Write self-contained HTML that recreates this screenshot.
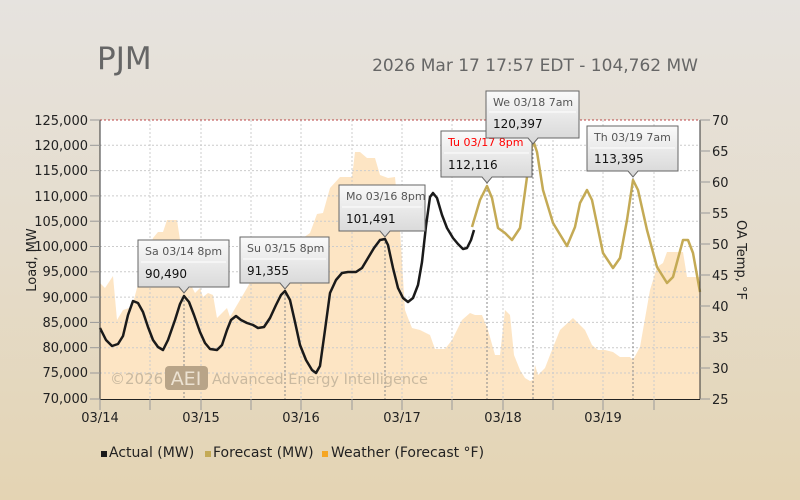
<!DOCTYPE html>
<html><head><meta charset="utf-8"><style>
html,body{margin:0;padding:0;width:800px;height:500px;overflow:hidden;background:#e5dccb}
</style></head><body>
<svg width="800" height="500" viewBox="0 0 800 500" xmlns="http://www.w3.org/2000/svg" font-family="DejaVu Sans, Liberation Sans, sans-serif">
<defs>
<linearGradient id="bg" x1="0" y1="0" x2="0" y2="1"><stop offset="0" stop-color="#e6e3df"/><stop offset="0.5" stop-color="#e5dccb"/><stop offset="1" stop-color="#e4d4b3"/></linearGradient>
<linearGradient id="cg" x1="0" y1="0" x2="0" y2="1"><stop offset="0" stop-color="#fafafa"/><stop offset="1" stop-color="#d6d6d6"/></linearGradient>
</defs>
<rect x="0" y="0" width="800" height="500" fill="url(#bg)"/>
<text x="97" y="69" font-size="31" fill="#666">PJM</text>
<text x="698" y="71" font-size="17" fill="#666" text-anchor="end">2026 Mar 17 17:57 EDT - 104,762 MW</text>
<rect x="100" y="120" width="600" height="279" fill="#fff"/>
<polygon fill="#fde5c4" points="100,399 100,283 105,288 113,276 117,320 123,310 132,307 137,288 143,270 153,238 158,232 163,232 167,220 177,220 180,240 185,290 192,287 195,293 200,288 203,297 208,293 213,295 217,318 223,312 227,308 230,317 240,300 247,288 253,277 263,265 273,258 287,247 300,240 310,233 317,214 323,213 330,188 340,177 352,177 355,152 360,152 367,158 375,158 380,175 388,178 395,177 400,230 405,310 408,318 412,328 420,330 430,335 435,349 445,349 452,340 462,320 470,313 475,315 482,315 488,330 495,355 500,355 505,310 510,315 514,355 520,370 525,378 530,381 533,380 535,365 538,375 545,368 550,355 560,330 573,318 585,330 592,345 598,350 605,350 613,352 620,357 630,357 633,360 640,347 650,290 657,267 663,263 667,252 683,252 687,277 700,277 700,399"/>
<g stroke="#ccc" stroke-dasharray="2,2" stroke-width="1">
<line x1="100" y1="145.3" x2="700" y2="145.3"/><line x1="100" y1="170.6" x2="700" y2="170.6"/><line x1="100" y1="195.9" x2="700" y2="195.9"/><line x1="100" y1="221.2" x2="700" y2="221.2"/><line x1="100" y1="246.5" x2="700" y2="246.5"/><line x1="100" y1="271.8" x2="700" y2="271.8"/><line x1="100" y1="297.1" x2="700" y2="297.1"/><line x1="100" y1="322.4" x2="700" y2="322.4"/><line x1="100" y1="347.7" x2="700" y2="347.7"/><line x1="100" y1="373" x2="700" y2="373"/>
<line x1="150" y1="120" x2="150" y2="399"/><line x1="201" y1="120" x2="201" y2="399"/><line x1="251" y1="120" x2="251" y2="399"/><line x1="301" y1="120" x2="301" y2="399"/><line x1="352" y1="120" x2="352" y2="399"/><line x1="402" y1="120" x2="402" y2="399"/><line x1="452" y1="120" x2="452" y2="399"/><line x1="503" y1="120" x2="503" y2="399"/><line x1="553" y1="120" x2="553" y2="399"/><line x1="603" y1="120" x2="603" y2="399"/><line x1="654" y1="120" x2="654" y2="399"/>
</g>
<line x1="100" y1="120" x2="700" y2="120" stroke="#b44" stroke-dasharray="2,2"/>
<g stroke="#888" stroke-dasharray="2,2">
<line x1="184" y1="296" x2="184" y2="399"/><line x1="285" y1="290" x2="285" y2="399"/><line x1="385" y1="238" x2="385" y2="399"/><line x1="487" y1="182" x2="487" y2="399"/><line x1="533" y1="141" x2="533" y2="399"/><line x1="633" y1="178" x2="633" y2="399"/>
</g>
<text x="110" y="384" font-size="15" fill="#c9b9a0">©2026</text>
<rect x="165" y="366" width="43" height="24" rx="4" fill="#b8a488"/>
<text x="186" y="385" font-size="19" fill="#ece2d2" text-anchor="middle">AEI</text>
<text x="212" y="384" font-size="14.5" fill="#c9b9a0">Advanced Energy Intelligence</text>
<polyline fill="none" stroke="#c4aa55" stroke-width="2.5" stroke-linejoin="round" points="472,227 480,200 487,186 492,198 498,228 505,233 512,240 520,228 527,177 533,140 537,152 543,190 553,223 567,246 575,227 580,203 587,190 592,200 603,253 613,268 620,258 627,220 633,180 638,190 647,230 657,267 667,283 673,277 683,240 688,240 693,253 700,292"/>
<polyline fill="none" stroke="#1a1a1a" stroke-width="2.5" stroke-linejoin="round" points="100,328 106,340 112,346 118,344 123,336 128,315 133,301 138,303 143,312 148,327 153,340 158,347 163,350 168,340 175,320 180,304 184,296 189,302 194,315 200,332 205,343 210,349 217,350 222,345 227,330 231,320 236,316 241,320 247,323 253,325 258,328 264,327 270,318 276,305 281,295 285,291 290,300 295,322 300,345 306,360 312,370 316,373 320,366 325,330 330,293 336,280 342,273 348,272 356,272 362,268 368,258 374,248 380,240 385,239 388,245 393,268 398,288 403,298 408,302 413,298 418,285 422,262 426,226 430,197 433,193 437,198 442,215 447,228 453,238 458,244 463,249 467,248 471,240 474,230"/>
<line x1="100" y1="120" x2="100" y2="399" stroke="#333"/>
<line x1="700" y1="120" x2="700" y2="399" stroke="#333"/>
<line x1="100" y1="399.5" x2="700" y2="399.5" stroke="#222"/>
<g stroke="#999"><line x1="100" y1="399" x2="100" y2="410"/><line x1="150" y1="399" x2="150" y2="410"/><line x1="201" y1="399" x2="201" y2="410"/><line x1="251" y1="399" x2="251" y2="410"/><line x1="301" y1="399" x2="301" y2="410"/><line x1="352" y1="399" x2="352" y2="410"/><line x1="402" y1="399" x2="402" y2="410"/><line x1="452" y1="399" x2="452" y2="410"/><line x1="503" y1="399" x2="503" y2="410"/><line x1="553" y1="399" x2="553" y2="410"/><line x1="603" y1="399" x2="603" y2="410"/><line x1="654" y1="399" x2="654" y2="410"/></g>
<g stroke="#999"><line x1="90" y1="120" x2="100" y2="120"/><line x1="90" y1="145.3" x2="100" y2="145.3"/><line x1="90" y1="170.6" x2="100" y2="170.6"/><line x1="90" y1="195.9" x2="100" y2="195.9"/><line x1="90" y1="221.2" x2="100" y2="221.2"/><line x1="90" y1="246.5" x2="100" y2="246.5"/><line x1="90" y1="271.8" x2="100" y2="271.8"/><line x1="90" y1="297.1" x2="100" y2="297.1"/><line x1="90" y1="322.4" x2="100" y2="322.4"/><line x1="90" y1="347.7" x2="100" y2="347.7"/><line x1="90" y1="373" x2="100" y2="373"/><line x1="90" y1="399" x2="100" y2="399"/></g>
<g font-size="13" fill="#222">
<text x="88" y="125" text-anchor="end">125,000</text><text x="88" y="150" text-anchor="end">120,000</text><text x="88" y="175" text-anchor="end">115,000</text><text x="88" y="201" text-anchor="end">110,000</text><text x="88" y="226" text-anchor="end">105,000</text><text x="88" y="251" text-anchor="end">100,000</text><text x="88" y="276" text-anchor="end">95,000</text><text x="88" y="302" text-anchor="end">90,000</text><text x="88" y="327" text-anchor="end">85,000</text><text x="88" y="352" text-anchor="end">80,000</text><text x="88" y="377" text-anchor="end">75,000</text><text x="88" y="403" text-anchor="end">70,000</text>
</g>
<g font-size="13" fill="#222">
<text x="712" y="125">70</text><text x="712" y="156">65</text><text x="712" y="187">60</text><text x="712" y="218">55</text><text x="712" y="249">50</text><text x="712" y="280">45</text><text x="712" y="311">40</text><text x="712" y="342">35</text><text x="712" y="373">30</text><text x="712" y="404">25</text>
</g>
<g stroke="#999"><line x1="700" y1="120" x2="710" y2="120"/><line x1="700" y1="151" x2="710" y2="151"/><line x1="700" y1="182" x2="710" y2="182"/><line x1="700" y1="213" x2="710" y2="213"/><line x1="700" y1="244" x2="710" y2="244"/><line x1="700" y1="275" x2="710" y2="275"/><line x1="700" y1="306" x2="710" y2="306"/><line x1="700" y1="337" x2="710" y2="337"/><line x1="700" y1="368" x2="710" y2="368"/><line x1="700" y1="399" x2="710" y2="399"/></g>
<g font-size="13" fill="#222">
<text x="100" y="422" text-anchor="middle">03/14</text><text x="201" y="422" text-anchor="middle">03/15</text><text x="301" y="422" text-anchor="middle">03/16</text><text x="402" y="422" text-anchor="middle">03/17</text><text x="503" y="422" text-anchor="middle">03/18</text><text x="603" y="422" text-anchor="middle">03/19</text>
</g>
<text transform="translate(36,260) rotate(-90)" font-size="13" fill="#222" text-anchor="middle">Load, MW</text>
<text transform="translate(737,260) rotate(90)" font-size="13" fill="#222" text-anchor="middle">OA Temp, °F</text>
<g>
<path d="M138,240 H229 V287 H189 L184,293 L179,287 H138 Z" fill="url(#cg)" stroke="#666"/><line x1="141" y1="262" x2="226" y2="262" stroke="#fff"/>
<text x="145" y="255" fill="#555" font-size="11">Sa 03/14 8pm</text><text x="145" y="278" fill="#111" font-size="12">90,490</text>
<path d="M240,237 H329 V283 H290 L285,289 L280,283 H240 Z" fill="url(#cg)" stroke="#666"/><line x1="243" y1="259" x2="326" y2="259" stroke="#fff"/>
<text x="247" y="252" fill="#555" font-size="11">Su 03/15 8pm</text><text x="247" y="275" fill="#111" font-size="12">91,355</text>
<path d="M339,185 H425 V231 H390 L385,237 L380,231 H339 Z" fill="url(#cg)" stroke="#666"/><line x1="342" y1="207" x2="422" y2="207" stroke="#fff"/>
<text x="346" y="200" fill="#555" font-size="11">Mo 03/16 8pm</text><text x="346" y="223" fill="#111" font-size="12">101,491</text>
<path d="M441,131 H532 V177 H492 L487,183 L482,177 H441 Z" fill="url(#cg)" stroke="#666"/><line x1="444" y1="153" x2="529" y2="153" stroke="#fff"/>
<text x="448" y="146" fill="#f00" font-size="11">Tu 03/17 8pm</text><text x="448" y="169" fill="#111" font-size="12">112,116</text>
<path d="M486,91 H579 V138 H538 L533,144 L528,138 H486 Z" fill="url(#cg)" stroke="#666"/><line x1="489" y1="112" x2="576" y2="112" stroke="#fff"/>
<text x="493" y="106" fill="#555" font-size="11">We 03/18 7am</text><text x="493" y="128" fill="#111" font-size="12">120,397</text>
<path d="M587,126 H678 V171 H638 L633,177 L628,171 H587 Z" fill="url(#cg)" stroke="#666"/><line x1="590" y1="148" x2="675" y2="148" stroke="#fff"/>
<text x="594" y="141" fill="#555" font-size="11">Th 03/19 7am</text><text x="594" y="163" fill="#111" font-size="12">113,395</text>
</g>
<g font-size="14" fill="#222">
<rect x="101" y="451" width="6" height="6" fill="#1a1a1a"/><text x="109" y="457">Actual (MW)</text>
<rect x="205" y="451" width="6" height="6" fill="#c4aa55"/><text x="213" y="457">Forecast (MW)</text>
<rect x="322" y="451" width="6" height="6" fill="#f5a623"/><text x="331" y="457">Weather (Forecast °F)</text>
</g>
</svg>
</body></html>
